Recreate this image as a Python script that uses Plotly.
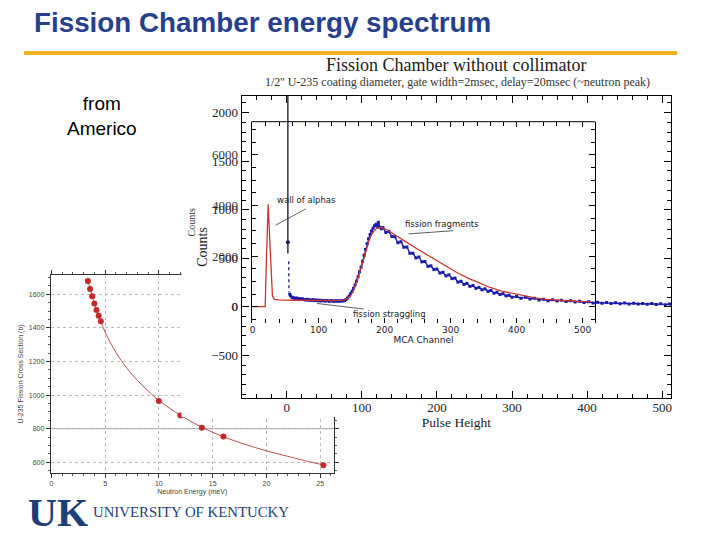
import plotly.graph_objects as go

W, H = 720, 540


def fx(px):
    return px / W


def fy(py):
    return 1 - py / H


# ---------------- data ----------------
# inset: U-235 fission cross section vs neutron energy
energy_mev = [3.4, 3.6, 3.8, 4.0, 4.2, 4.4, 4.6, 10, 12, 14, 16, 25.3]
cross_section_b = [1680, 1632, 1588, 1546, 1507, 1473, 1439, 965, 878, 806, 753, 582]
fit_energy = [3.4, 4.0, 4.6, 5, 6, 7, 8, 9, 10, 12, 14, 16, 18, 20, 22, 24, 25.3]
fit_sigma = [1680, 1548, 1440, 1375, 1255, 1162, 1088, 1025, 968, 880, 808, 752, 707, 668, 635, 603, 584]

# outer plot: pulse height spectrum (blue points)
pulse_height = [4, 5, 7, 9, 11, 13, 15, 17, 19, 21, 23, 25, 27, 29, 31, 33, 35, 37, 39, 41,
                43, 45, 47, 49, 51, 53, 55, 57, 59, 61, 63, 65, 67, 69, 71, 73, 75, 77,
                79, 81, 83, 85, 87, 89, 91, 93, 95, 97, 99, 101, 103, 105, 107, 109, 111,
                113, 115, 117, 119, 121, 122, 124, 126,
                128, 132, 136, 140, 144, 148, 152, 156, 160, 164, 168, 172, 176, 180, 184,
                188, 192, 196, 200, 204, 208, 212, 216, 220, 224, 228, 232, 236, 240, 244,
                248, 252, 256, 260, 264, 268, 272, 276, 280, 284, 288, 292, 296, 300,
                306, 312, 318, 324, 330, 336, 342, 348, 354, 360, 366, 372, 378, 384, 390,
                396, 402, 408, 414, 420, 426, 432, 438, 444, 450, 456, 462, 468, 474, 480,
                486, 492, 498, 504, 510]
ph_counts = [130, 112, 98, 92, 86, 90, 80, 84, 76, 82, 74, 70, 78, 68, 72, 66, 74, 64, 70, 62,
             68, 60, 66, 63, 58, 65, 61, 57, 64, 60, 56, 62, 58, 61, 57, 63, 60, 66,
             75, 90, 110, 135, 160, 190, 225, 265, 310, 360, 410, 470, 530, 590, 650, 700, 745,
             780, 810, 835, 850, 830, 870, 820, 805,
             816, 766, 778, 724, 721, 661, 671, 613, 616, 552, 552, 503, 513, 463, 467,
             417, 422, 383, 389, 348, 356, 319, 329, 290, 296, 254, 263, 231, 241, 210,
             220, 190, 200, 175, 185, 159, 168, 140, 150, 126, 135, 112, 119, 99,
             106, 88, 99, 81, 89, 71, 78, 63, 72, 59, 68, 55, 63, 50, 57,
             44, 52, 39, 46, 36, 43, 33, 41, 32, 39, 29, 37, 28, 34, 26,
             33, 24, 30, 22, 28]
spike_x = [1.5, 1.5]
spike_y = [2600, 550]
spike_dot_x = [1.5]
spike_dot_y = [665]
tail_x = [2.6, 2.6, 3.0]
tail_y = [470, 230, 150]

# inner plot: MCA channel spectrum (red curve)
mca_channel = [0, 19, 21, 23.5, 26, 28, 30, 33, 40, 60, 80, 100, 120, 135, 142, 148, 152, 158,
               164, 168, 172, 176, 180, 184, 188, 194, 200, 210, 219, 230, 244, 260, 277, 294,
               310, 327, 344, 360, 377, 395, 410, 428, 445, 460, 475, 490, 505, 512]
mca_counts = [0, 0, 2000, 4050, 2600, 1100, 420, 290, 270, 255, 245, 235, 240, 250, 300, 420,
              600, 990, 1480, 1845, 2220, 2600, 2850, 3000, 3100, 3140, 3090, 2930, 2770, 2600,
              2370, 2120, 1840, 1580, 1340, 1120, 925, 760, 620, 520, 430, 350, 290, 255, 235,
              215, 200, 190]

SERIF = "Liberation Serif"
SANS = "Liberation Sans"
DSANS = "DejaVu Sans"

fig = go.Figure()

# inset traces (xy)
fig.add_trace(go.Scatter(x=fit_energy, y=fit_sigma, mode="lines", line=dict(color="#b5524e", width=1, shape="spline"),
                         xaxis="x", yaxis="y", hoverinfo="skip", showlegend=False))
fig.add_trace(go.Scatter(x=energy_mev, y=cross_section_b, mode="markers",
                         marker=dict(color="#c62828", size=6), xaxis="x", yaxis="y", showlegend=False))

# cover subplot (x2y2) - blank white panel of the pasted chart
fig.add_trace(go.Scatter(x=[], y=[], xaxis="x2", yaxis="y2", showlegend=False, hoverinfo="skip"))

# outer plot (x3y3)
fig.add_trace(go.Scatter(x=spike_x, y=spike_y, mode="lines", line=dict(color="#111133", width=1.3),
                         xaxis="x3", yaxis="y3", showlegend=False))
fig.add_trace(go.Scatter(x=spike_dot_x, y=spike_dot_y, mode="markers", marker=dict(color="#1a1a60", size=4),
                         xaxis="x3", yaxis="y3", showlegend=False))
fig.add_trace(go.Scatter(x=tail_x, y=tail_y, mode="lines", line=dict(color="#1a1a80", width=1.3, dash="dot"),
                         xaxis="x3", yaxis="y3", showlegend=False))
fig.add_trace(go.Scatter(x=pulse_height, y=ph_counts, mode="lines+markers",
                         line=dict(color="rgb(25,25,170)", width=1.4),
                         marker=dict(color="rgb(25,25,170)", size=3, symbol="square"),
                         xaxis="x3", yaxis="y3", showlegend=False))

# inner plot (x4y4)
fig.add_trace(go.Scatter(x=mca_channel, y=mca_counts, mode="lines", line=dict(color="rgb(200,55,45)", width=1.3),
                         xaxis="x4", yaxis="y4", showlegend=False))

ax_common = dict(showgrid=False, zeroline=False)

fig.update_layout(
    width=W, height=H, margin=dict(l=0, r=0, t=0, b=0),
    paper_bgcolor="white", plot_bgcolor="rgba(0,0,0,0)", hovermode=False,
    # inset
    xaxis=dict(domain=[fx(49), fx(333)], range=[-0.05, 26.25], anchor="y",
               showline=True, linecolor="#333", linewidth=1, mirror="ticks",
               ticks="outside", ticklen=4, tickcolor="#333", dtick=5, tick0=0,
               minor=dict(ticks="outside", ticklen=2, dtick=1, tickcolor="#555"),
               showgrid=True, gridcolor="#bbbbbb", griddash="dot", gridwidth=1, zeroline=False,
               tickfont=dict(family=SANS, size=7, color="#444"),
               title=dict(text="Neutron Energy (meV)", font=dict(family=SANS, size=7, color="#444"), standoff=2)),
    yaxis=dict(domain=[fy(473), fy(275)], range=[536, 1715], anchor="x",
               showline=True, linecolor="#333", linewidth=1, mirror="ticks",
               ticks="outside", ticklen=4, tickcolor="#333", dtick=200, tick0=0,
               minor=dict(ticks="outside", ticklen=2, dtick=50, tickcolor="#555"),
               showgrid=True, gridcolor="#bbbbbb", griddash="dot", gridwidth=1, zeroline=False,
               tickfont=dict(family=SANS, size=7, color="#444"),
               title=dict(text="U-235 Fission Cross Section (b)", font=dict(family=SANS, size=7, color="#444"), standoff=4)),
    # cover
    xaxis2=dict(domain=[fx(180), fx(690)], range=[0, 1], anchor="y2", visible=False),
    yaxis2=dict(domain=[fy(417), fy(57)], range=[0, 1], anchor="x2", visible=False),
    # outer
    xaxis3=dict(domain=[fx(240.7), fx(672)], range=[-60, 512], anchor="y3",
                showline=True, linecolor="black", linewidth=1, mirror="ticks",
                ticks="inside", ticklen=7, tickcolor="black", dtick=100, tick0=0,
                minor=dict(ticks="inside", ticklen=4, dtick=20, tickcolor="black"),
                tickfont=dict(family=SERIF, size=13, color="#222"), ticklabelstandoff=-3,
                title=dict(text="Pulse Height", font=dict(family=SERIF, size=13.5, color="#222"), standoff=0),
                **ax_common),
    yaxis3=dict(domain=[fy(398), fy(96)], range=[-940, 2172], anchor="x3",
                showline=True, linecolor="black", linewidth=1, mirror="ticks",
                ticks="inside", ticklen=7, tickcolor="black", dtick=500, tick0=0,
                minor=dict(ticks="inside", ticklen=4, dtick=100, tickcolor="black"),
                tickfont=dict(family=SERIF, size=13, color="#222"),
                title=dict(text="Counts", font=dict(family=SERIF, size=14, color="#222"), standoff=0),
                **ax_common),
    # inner
    xaxis4=dict(domain=[fx(250.7), fx(595.7)], range=[-1.5, 519], anchor="y4",
                showline=False, mirror="ticks",
                ticks="inside", ticklen=5, tickcolor="black", dtick=100, tick0=0,
                minor=dict(ticks="inside", ticklen=4, dtick=20, tickcolor="black"),
                tickfont=dict(family=DSANS, size=9, color="#222"),
                title=dict(text="MCA Channel", font=dict(family=DSANS, size=9, color="#222"), standoff=0),
                **ax_common),
    yaxis4=dict(domain=[fy(323), fy(121.7)], range=[-644, 7312], anchor="x4",
                showline=True, linecolor="black", linewidth=1, mirror="ticks",
                ticks="inside", ticklen=6, tickcolor="black", dtick=2000, tick0=0,
                minor=dict(ticks="inside", ticklen=4, dtick=500, tickcolor="black"),
                tickfont=dict(family=SERIF, size=13, color="#333"), ticklabelstandoff=10,
                title=dict(text="Counts", font=dict(family=SERIF, size=10, color="#333"), standoff=14),
                **ax_common),
)

shapes = [
    # white panel of pasted chart (inside cover subplot)
    dict(type="rect", xref="x2", yref="y2", x0=0, x1=1, y0=0, y1=1,
         fillcolor="white", line=dict(width=0), layer="below"),
    # darker 800 b reference line in inset
    dict(type="line", xref="x", yref="y", x0=-0.05, x1=26.25, y0=800, y1=800,
         line=dict(color="#999", width=1), layer="below"),
    # top border of inner plot
    dict(type="line", xref="x4 domain", yref="y4 domain", x0=0, x1=1, y0=1, y1=1,
         line=dict(color="black", width=1), layer="above"),
    # slide rule
    dict(type="line", xref="paper", yref="paper", x0=fx(22), x1=fx(678), y0=fy(53), y1=fy(53),
         line=dict(color="#f2b11f", width=4), layer="above"),
]
fig.update_layout(shapes=shapes)

ann = [
    dict(text="<b>Fission Chamber energy spectrum</b>", x=fx(30), y=fy(22), xref="paper", yref="paper",
         xanchor="left", yanchor="middle", showarrow=False,
         font=dict(family=SANS, size=27.8, color="#26408e")),
    dict(text="from<br>Americo", x=fx(100), y=fy(116), xref="paper", yref="paper",
         xanchor="center", yanchor="middle", showarrow=False,
         font=dict(family=SANS, size=19, color="black")),
    dict(text="Fission Chamber without collimator", x=fx(456), y=fy(65), xref="paper", yref="paper",
         xanchor="center", yanchor="middle", showarrow=False,
         font=dict(family=SERIF, size=18, color="#222")),
    dict(text="1/2'' U-235 coating diameter, gate width=2msec, delay=20msec (~neutron peak)",
         x=fx(457), y=fy(82), xref="paper", yref="paper", xanchor="center", yanchor="middle",
         showarrow=False, font=dict(family=SERIF, size=12, color="#333")),
    dict(text="<b>UK</b>", x=fx(56), y=fy(512), xref="paper", yref="paper", xanchor="center",
         yanchor="middle", showarrow=False, font=dict(family=SERIF, size=40, color="#1d3f78")),
    dict(text="UNIVERSITY OF KENTUCKY", x=fx(89), y=fy(512), xref="paper", yref="paper",
         xanchor="left", yanchor="middle", showarrow=False,
         font=dict(family=SERIF, size=14.8, color="#1d3f78")),
    # inner annotations
    dict(text="wall of alphas", x=81, y=4217, xref="x4", yref="y4", showarrow=False,
         font=dict(family=DSANS, size=8.5, color="#222")),
    dict(text="", x=80.4, y=3862, ax=32.6, ay=3190, xref="x4", yref="y4", axref="x4", ayref="y4",
         showarrow=True, arrowhead=0, arrowwidth=0.8, arrowcolor="#333", standoff=0),
    dict(text="fission fragments", x=287, y=3269, xref="x4", yref="y4", showarrow=False,
         font=dict(family=DSANS, size=8.5, color="#222")),
    dict(text="", x=304, y=3004, ax=233.8, ay=2873, xref="x4", yref="y4", axref="x4", ayref="y4",
         showarrow=True, arrowhead=0, arrowwidth=0.8, arrowcolor="#333", standoff=0),
    dict(text="fission straggling", x=207, y=-289, xref="x4", yref="y4", showarrow=False,
         font=dict(family=DSANS, size=8.5, color="#222")),
    dict(text="", x=168, y=-91, ax=95.5, ay=134, xref="x4", yref="y4", axref="x4", ayref="y4",
         showarrow=True, arrowhead=0, arrowwidth=0.8, arrowcolor="#333", standoff=0),
]
fig.update_layout(annotations=ann)

fig.write_html("out.html",
               config={"displayModeBar": False, "staticPlot": True},
               post_script="document.body.style.margin='0';document.body.style.overflow='hidden';")
